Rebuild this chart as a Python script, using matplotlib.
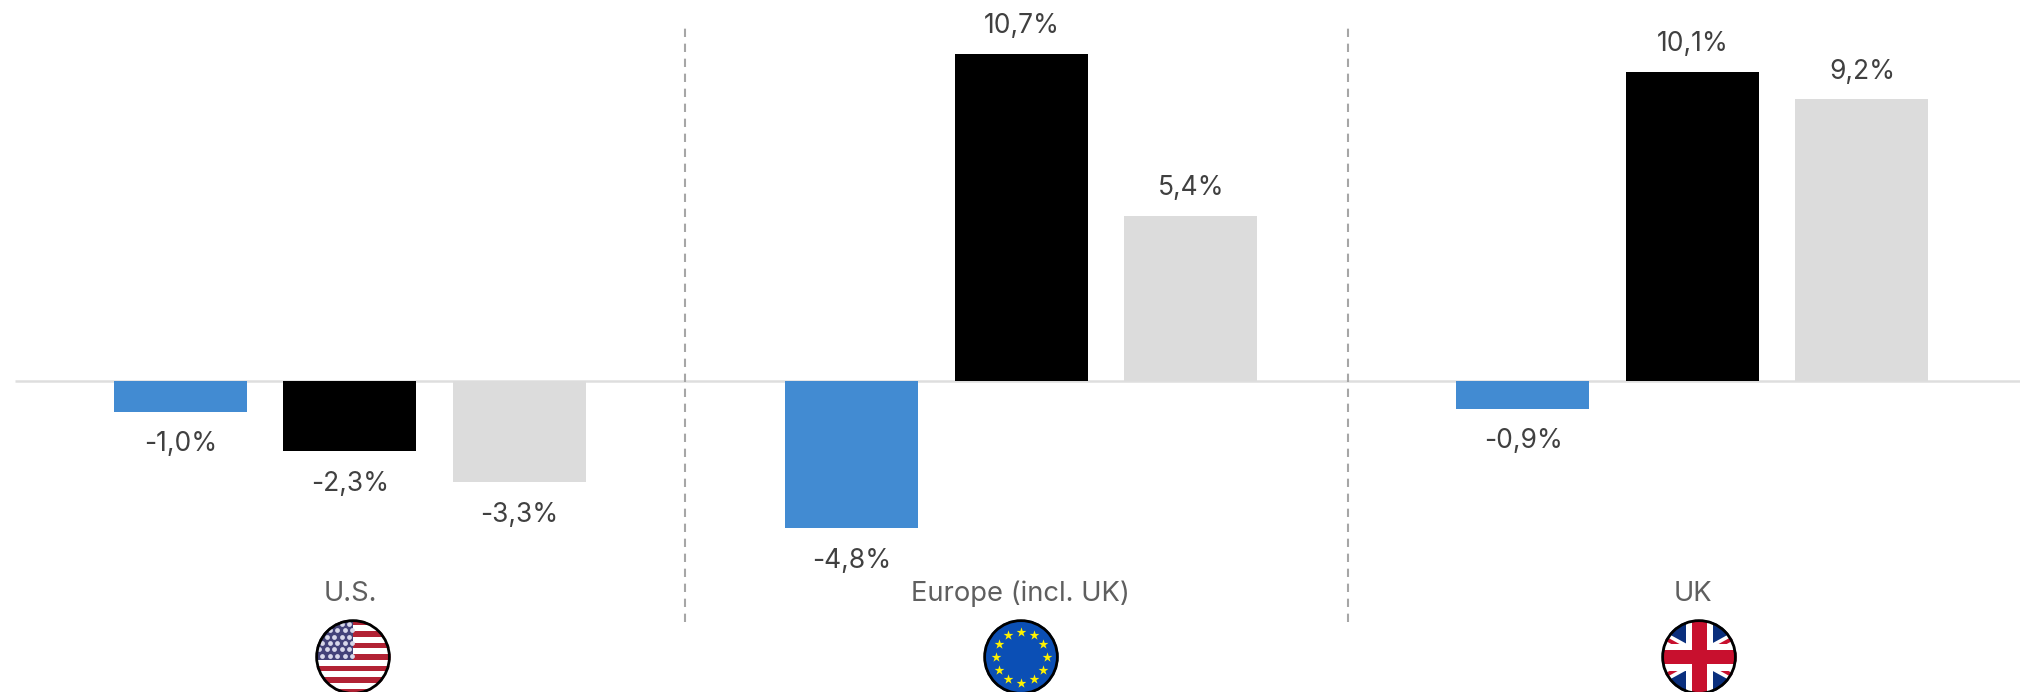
import matplotlib
matplotlib.use("Agg")
import matplotlib.pyplot as plt
from matplotlib.patches import Circle, Rectangle, Polygon
import numpy as np

plt.rcParams['font.family'] = ['Inter', 'DejaVu Sans']

# Data
regions = ["U.S.", "Europe (incl. UK)", "UK"]
series_a = [-1.0, -4.8, -0.9]
series_b = [-2.3, 10.7, 10.1]
series_c = [-3.3, 5.4, 9.2]
colors = ["#428bd2", "#000000", "#dcdcdc"]

W, H = 2020, 692
fig = plt.figure(figsize=(W / 100, H / 100), dpi=100, facecolor="white")

# axes over the whole figure, 1 x unit = 169.4 px, 1 y unit (1%) = 30.6 px
ax = fig.add_axes([0, 0, 1, 1])
px_x = 169.4
px_y = 30.6
zero_x = 180.5
zero_y = 381.0
ax.set_xlim(-zero_x / px_x, (W - zero_x) / px_x)
ax.set_ylim(-(H - zero_y) / px_y, zero_y / px_y)
ax.axis("off")

group_step = 671.2 / px_x
x0 = np.arange(len(regions)) * group_step
bar_w = 133 / px_x

ax.plot([(15 - zero_x) / px_x, (W - zero_x) / px_x], [0, 0], color="#dedede", lw=1.8,
        solid_capstyle="butt", zorder=1)

for i, vals in enumerate([series_a, series_b, series_c]):
    xs = x0 + i
    ax.bar(xs, vals, width=bar_w, color=colors[i], zorder=2)
    for x, v in zip(xs, vals):
        label = f"{v:.1f}%".replace(".", ",")
        off = 20 if v > 0 else -23.5
        ax.annotate(label, (x, v), xytext=(0.3, off), textcoords="offset points",
                    ha="center", va="center", fontsize=19, color="#404040")

# dashed separators
for sep_x in [684.5, 1348]:
    ax.plot([(sep_x - zero_x) / px_x] * 2, [(zero_y - 622) / px_y, (zero_y - 28) / px_y],
            color="#a6a6a6", lw=1.5, dashes=(4, 3.2), zorder=3)

# region names
name_x = [350, 1020, 1693]
for nx, name in zip(name_x, regions):
    ax.text((nx - zero_x) / px_x, (zero_y - 594) / px_y, name, ha="center", va="center",
            fontsize=19.7, color="#5f5f5f")


def flag_axes(cx, cy, r=37.5):
    a = fig.add_axes([(cx - r) / W, 1 - (cy + r) / H, 2 * r / W, 2 * r / H])
    a.set_xlim(-1, 1)
    a.set_ylim(-1, 1)
    a.axis("off")
    clip = Circle((0, 0), 1, transform=a.transData)
    return a, clip


def add(a, clip, artist):
    a.add_patch(artist)
    artist.set_clip_path(clip)


def ring(a):
    a.add_patch(Circle((0, 0), 0.97, fill=False, ec="black", lw=2.0, clip_on=False, zorder=10))


# US flag
a, clip = flag_axes(353, 657)
add(a, clip, Rectangle((-1, -1), 2, 2, color="white"))
stripe_h = 2 / 13
for k in range(0, 13, 2):
    add(a, clip, Rectangle((-1, 1 - (k + 1) * stripe_h), 2, stripe_h, color="#b22234", lw=0))
add(a, clip, Rectangle((-1, 1 - 7 * stripe_h), 1.0, 7 * stripe_h, color="#434279", lw=0))
for row, sy in enumerate(np.linspace(0.88, 0.04, 6)):
    for sx in np.linspace(-0.9, -0.1, 5) + (0.08 if row % 2 else 0):
        pts = a.scatter([sx], [sy], s=12, marker="o", color="#d8d8ea", linewidths=0, zorder=3)
        pts.set_clip_path(clip)
ring(a)

# EU flag
a, clip = flag_axes(1021, 657)
add(a, clip, Rectangle((-1, -1), 2, 2, color="#0b4fb5", lw=0))
ang = np.deg2rad(np.arange(0, 360, 30))
a.scatter(0.68 * np.cos(ang), 0.68 * np.sin(ang), s=55, marker="*", color="#fff200", linewidths=0, zorder=3)
ring(a)

# UK flag, diagonals are shallower than the circle corners
a, clip = flag_axes(1699, 657)
add(a, clip, Rectangle((-1, -1), 2, 2, color="#0a2f7d", lw=0))
for s in [1, -1]:
    add(a, clip, Polygon([(-1, -s * 0.55 + 0.17 * s), (-1, -s * 0.55 - 0.17 * s), (1, s * 0.55 - 0.17 * s), (1, s * 0.55 + 0.17 * s)],
                         color="white", lw=0))
for s in [1, -1]:
    add(a, clip, Polygon([(-1, -s * 0.55 + 0.06 * s), (-1, -s * 0.55 - 0.06 * s), (1, s * 0.55 - 0.06 * s), (1, s * 0.55 + 0.06 * s)],
                         color="#c8102e", lw=0))
add(a, clip, Rectangle((-0.36, -1), 0.72, 2, color="white", lw=0))
add(a, clip, Rectangle((-1, -0.36), 2, 0.72, color="white", lw=0))
add(a, clip, Rectangle((-0.2, -1), 0.4, 2, color="#c8102e", lw=0))
add(a, clip, Rectangle((-1, -0.18), 2, 0.36, color="#c8102e", lw=0))
ring(a)

fig.savefig("out.png", dpi=100, facecolor="white")
